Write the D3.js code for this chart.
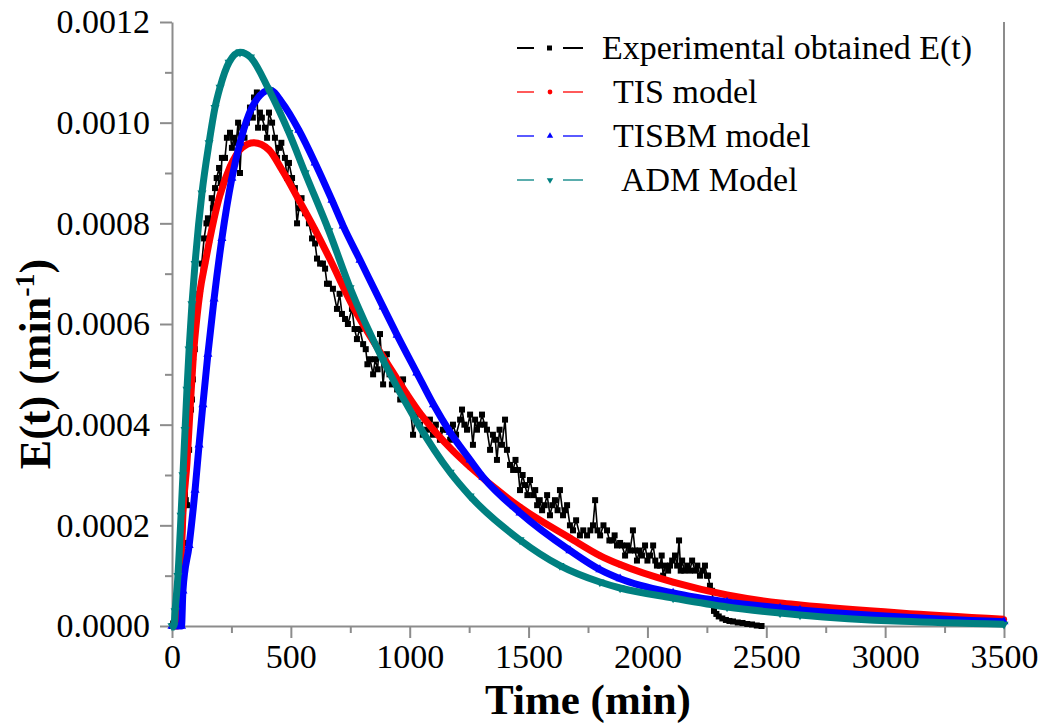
<!DOCTYPE html>
<html>
<head>
<meta charset="utf-8">
<script src="https://cdn.jsdelivr.net/npm/d3@7"></script>
<style>
  body { margin: 0; background: #fff; }
  text { font-family: "Liberation Serif", "DejaVu Serif", serif; }
</style>
</head>
<body>
<div id="chart"></div>
<script>
// experimental E(t)
const expTime = [0, 5, 20, 34, 50, 58, 63, 67, 72, 80, 84, 88, 96, 101, 105, 115, 125, 135, 145, 151, 160, 167, 172, 181, 188, 198, 205, 210, 223, 231, 244, 252, 260, 270, 278, 286, 295, 305, 315, 328, 340, 345, 357, 362, 370, 378, 391, 400, 408, 421, 433, 442, 450, 460, 475, 484, 492, 505, 517, 526, 534, 545, 560, 576, 589, 602, 610, 623, 635, 644, 652, 660, 677, 694, 705, 715, 728, 740, 757, 768, 778, 790, 804, 815, 822, 833, 846, 855, 865, 875, 888, 896, 904, 915, 925, 935, 947, 960, 972, 985, 1001, 1014, 1025, 1043, 1055, 1073, 1085, 1098, 1110, 1127, 1140, 1157, 1170, 1182, 1195, 1212, 1220, 1230, 1241, 1254, 1266, 1275, 1283, 1295, 1304, 1315, 1325, 1338, 1350, 1360, 1367, 1378, 1388, 1401, 1409, 1422, 1435, 1445, 1456, 1464, 1475, 1485, 1495, 1506, 1519, 1528, 1536, 1547, 1557, 1568, 1578, 1590, 1600, 1611, 1622, 1632, 1645, 1655, 1662, 1674, 1687, 1700, 1716, 1730, 1746, 1760, 1771, 1780, 1790, 1801, 1815, 1830, 1840, 1851, 1862, 1872, 1885, 1893, 1906, 1915, 1927, 1939, 1948, 1956, 1967, 1977, 1990, 2000, 2011, 2024, 2033, 2040, 2053, 2060, 2066, 2075, 2087, 2095, 2104, 2116, 2125, 2133, 2140, 2146, 2155, 2167, 2178, 2188, 2200, 2210, 2221, 2232, 2242, 2250, 2255, 2263, 2272, 2280, 2290, 2300, 2315, 2330, 2345, 2360, 2380, 2400, 2420, 2440, 2460, 2480];
const expE = [0, 0.000005, 0.00006, 0.00013, 0.000165, 0.00025, 0.00024, 0.00036, 0.00035, 0.00043, 0.00045, 0.00049, 0.00055, 0.00059, 0.00063, 0.00066, 0.00072, 0.00077, 0.0008, 0.00081, 0.0008, 0.00085, 0.00083, 0.00087, 0.00089, 0.00091, 0.00088, 0.00093, 0.00093, 0.00097, 0.00098, 0.00095, 0.00097, 0.00096, 0.001, 0.0009, 0.00099, 0.00097, 0.001, 0.00103, 0.00101, 0.00105, 0.00106, 0.00099, 0.00102, 0.00101, 0.00099, 0.00097, 0.00102, 0.001, 0.00097, 0.00093, 0.00095, 0.00096, 0.00093, 0.00089, 0.00092, 0.00089, 0.00087, 0.0008, 0.00083, 0.00085, 0.00082, 0.0008, 0.00077, 0.00076, 0.00073, 0.00072, 0.00072, 0.00071, 0.00068, 0.00068, 0.00067, 0.00063, 0.00066, 0.00062, 0.00061, 0.0006, 0.00063, 0.00059, 0.00057, 0.00059, 0.00056, 0.00055, 0.00052, 0.00053, 0.0005, 0.00053, 0.00051, 0.00058, 0.00048, 0.00052, 0.00054, 0.0005, 0.00048, 0.00049, 0.00047, 0.00045, 0.00049, 0.00046, 0.00044, 0.00038, 0.00042, 0.0004, 0.00038, 0.00039, 0.00041, 0.00038, 0.0004, 0.00037, 0.00039, 0.00039, 0.00037, 0.0004, 0.00038, 0.00041, 0.00043, 0.0004, 0.00039, 0.00042, 0.00036, 0.00041, 0.00039, 0.0004, 0.00042, 0.0004, 0.00039, 0.00035, 0.00038, 0.00037, 0.00033, 0.00039, 0.00036, 0.00041, 0.00035, 0.00032, 0.00031, 0.00033, 0.00031, 0.00027, 0.0003, 0.00028, 0.00026, 0.00029, 0.00026, 0.00027, 0.00024, 0.00025, 0.00023, 0.00024, 0.00026, 0.00022, 0.00024, 0.00025, 0.00023, 0.00027, 0.00022, 0.00023, 0.00024, 0.0002, 0.00019, 0.00021, 0.00018, 0.00019, 0.00018, 0.00019, 0.0002, 0.00025, 0.00019, 0.00018, 0.0002, 0.00019, 0.00017, 0.00017, 0.00018, 0.00016, 0.000165, 0.00016, 0.00014, 0.00016, 0.00015, 0.00019, 0.00015, 0.00013, 0.00015, 0.00014, 0.00016, 0.00013, 0.00014, 0.00016, 0.00013, 0.00012, 0.00012, 0.00014, 0.0001, 0.00012, 0.00011, 0.00012, 0.00013, 0.00014, 0.00012, 0.00017, 0.00011, 0.00013, 0.00011, 0.00012, 0.00011, 0.00013, 0.00011, 0.00012, 0.0001, 0.00011, 0.00012, 0.0001, 0.0001, 0.00008, 0.00007, 0.00003, 0.000024, 0.000019, 0.000015, 0.000012, 0.00001, 0.000009, 0.000007, 0.000006, 0.000004, 0.000003, 0.000001, 0];

// TIS model
const tisTime = [0, 25, 34, 46, 63, 76, 89, 105, 118, 139, 156, 198, 244, 294, 345, 408, 463, 534, 602, 660, 762, 904, 1043, 1182, 1254, 1464, 1674, 1800, 1885, 2108, 2335, 2558, 2642, 3063, 3500];
const tisE = [0, 0, 0.000077, 0.000224, 0.000324, 0.00043, 0.00053, 0.000614, 0.000665, 0.00072, 0.000762, 0.00085, 0.000912, 0.00095, 0.00096, 0.000946, 0.000906, 0.000846, 0.000787, 0.000733, 0.000634, 0.000523, 0.000423, 0.000348, 0.000316, 0.000236, 0.000175, 0.00014, 0.000122, 0.000087, 0.0000616, 0.0000457, 0.0000417, 0.0000258, 0.0000133];

// TISBM model
const tisbmTime = [0, 40, 46, 72, 97, 114, 130, 151, 177, 210, 252, 286, 336, 412, 463, 534, 602, 673, 720, 791, 888, 947, 1030, 1100, 1170, 1254, 1308, 1464, 1674, 1800, 1885, 2108, 2335, 2558, 2642, 3500];
const tisbmE = [0, 0, 0.00007, 0.00016, 0.00027, 0.00036, 0.00044, 0.00054, 0.00065, 0.00077, 0.00089, 0.00096, 0.00103, 0.001065, 0.00104, 0.000985, 0.00092, 0.000846, 0.000795, 0.000727, 0.000634, 0.000578, 0.000503, 0.00044, 0.000385, 0.00033, 0.000296, 0.000225, 0.00015, 0.000112, 0.000094, 0.0000656, 0.0000477, 0.0000358, 0.000032, 0.0000085];

// ADM model
const admTime = [0, 8, 13, 25, 38, 46, 55, 63, 72, 84, 97, 126, 156, 181, 202, 240, 286, 330, 408, 492, 560, 660, 749, 888, 1030, 1170, 1254, 1464, 1632, 1800, 1885, 2108, 2335, 2558, 2642, 3500];
const admE = [0, 0, 0.00003, 0.0001, 0.00022, 0.0003, 0.00039, 0.00047, 0.00055, 0.00064, 0.00072, 0.00086, 0.00096, 0.00103, 0.00107, 0.00112, 0.00114, 0.00113, 0.001065, 0.00098, 0.0009, 0.000785, 0.000672, 0.000528, 0.000405, 0.000305, 0.000258, 0.000171, 0.00012, 0.0000874, 0.0000755, 0.0000556, 0.0000377, 0.0000258, 0.000022, 0.0000034];

const legendLabels = ["Experimental obtained E(t)", "TIS model", "TISBM model", "ADM Model"];
const xTicks = [0, 500, 1000, 1500, 2000, 2500, 3000, 3500];
const yTicks = [0, 0.0002, 0.0004, 0.0006, 0.0008, 0.0010, 0.0012];

// set the dimensions and margins of the graph
const margin = {top: 22, right: 40, bottom: 98, left: 172},
    width = 1044 - margin.left - margin.right,
    height = 724 - margin.top - margin.bottom;

const svg = d3.select("#chart")
    .append("svg")
    .attr("width", 1044)
    .attr("height", 724)
    .append("g")
    .attr("transform", `translate(${margin.left},${margin.top})`);

const x = d3.scaleLinear().domain([0, 3500]).range([0, width]);
const y = d3.scaleLinear().domain([0, 0.0012]).range([height, 0]);

const axisColor = "#8c8c8c";

// minor ticks
svg.append("g")
    .attr("transform", `translate(0, ${height})`)
    .call(d3.axisBottom(x).tickValues(d3.range(250, 3500, 500)).tickSize(7).tickFormat(""))
    .call(g => g.select(".domain").remove())
    .selectAll("line").attr("stroke", axisColor).attr("stroke-width", 2);
svg.append("g")
    .call(d3.axisLeft(y).tickValues(d3.range(0.0001, 0.0012, 0.0002)).tickSize(7).tickFormat(""))
    .call(g => g.select(".domain").remove())
    .selectAll("line").attr("stroke", axisColor).attr("stroke-width", 2);

// X axis
const xAxis = svg.append("g")
    .attr("transform", `translate(0, ${height})`)
    .call(d3.axisBottom(x).tickValues(xTicks).tickSize(12).tickSizeOuter(0).tickPadding(6).tickFormat(d3.format("d")));
xAxis.selectAll("text").attr("font-size", "34px").attr("fill", "#000")
    .attr("font-family", "Liberation Serif");

// Y axis
const yAxis = svg.append("g")
    .call(d3.axisLeft(y).tickValues(yTicks).tickSize(12).tickSizeOuter(0).tickPadding(10).tickFormat(d3.format(".4f")));
yAxis.selectAll("text").attr("font-size", "34px").attr("fill", "#000")
    .attr("font-family", "Liberation Serif");

[xAxis, yAxis].forEach(g => {
    g.select(".domain").attr("stroke", axisColor).attr("stroke-width", 2);
    g.selectAll(".tick line").attr("stroke", axisColor).attr("stroke-width", 2);
});

// right border
svg.append("line")
    .attr("x1", width).attr("x2", width)
    .attr("y1", 0).attr("y2", height)
    .attr("stroke", axisColor).attr("stroke-width", 2);

// axis titles
svg.append("text")
    .attr("x", width / 2)
    .attr("y", height + 88)
    .attr("text-anchor", "middle")
    .attr("font-size", "43px")
    .attr("font-weight", "bold")
    .text("Time (min)");

const yTitle = svg.append("text")
    .attr("transform", `translate(-122, ${height / 2 + 40}) rotate(-90)`)
    .attr("text-anchor", "middle")
    .attr("font-size", "44px")
    .attr("font-weight", "bold");
yTitle.append("tspan").text("E(t) (min");
yTitle.append("tspan").attr("font-size", "28px").attr("dy", "-16").text("-1");
yTitle.append("tspan").attr("dy", "16").text(")");

const line = d3.line()
    .x(d => x(d[0]))
    .y(d => y(d[1]));

// experimental data
const expData = expTime.map((t, i) => [t, expE[i]]);
svg.append("path")
    .datum(expData)
    .attr("fill", "none")
    .attr("stroke", "#000")
    .attr("stroke-width", 1.6)
    .attr("d", line);
svg.append("g")
    .selectAll("rect")
    .data(expData)
    .join("rect")
    .attr("x", d => x(d[0]) - 3)
    .attr("y", d => y(d[1]) - 3)
    .attr("width", 6)
    .attr("height", 6)
    .attr("fill", "#000");

// model curves
const models = [
    {time: tisTime, vals: tisE, color: "#ff0000", symbol: d3.symbolCircle, size: 30},
    {time: tisbmTime, vals: tisbmE, color: "#0000ff", symbol: d3.symbolTriangle, size: 36},
    {time: admTime, vals: admE, color: "#008080", symbol: d3.symbolTriangle, size: 36, flip: true}
];

const smooth = d3.line()
    .x(d => x(d[0]))
    .y(d => y(d[1]))
    .curve(d3.curveMonotoneX);

models.forEach(m => {
    const data = m.time.map((t, i) => [t, m.vals[i]]);
    svg.append("path")
        .datum(data)
        .attr("fill", "none")
        .attr("stroke", m.color)
        .attr("stroke-width", 7)
        .attr("stroke-linejoin", "round")
        .attr("d", smooth);
    svg.append("g")
        .selectAll("path")
        .data(data)
        .join("path")
        .attr("transform", d => `translate(${x(d[0])},${y(d[1])})` + (m.flip ? " rotate(180)" : ""))
        .attr("d", d3.symbol().type(m.symbol).size(m.size))
        .attr("fill", m.color);
});

// legend
const legendColors = ["#000", "#ff0000", "#0000ff", "#008080"];
const legendTextX = [430, 441, 441, 449];
const legend = svg.append("g");
legendLabels.forEach((label, i) => {
    const ly = 26 + i * 44;
    const g = legend.append("g").attr("transform", `translate(0, ${ly})`);
    g.append("line").attr("x1", 345).attr("x2", 362).attr("y1", 0).attr("y2", 0)
        .attr("stroke", legendColors[i]).attr("stroke-width", i === 0 ? 2 : 1.3);
    g.append("line").attr("x1", 391).attr("x2", 411).attr("y1", 0).attr("y2", 0)
        .attr("stroke", legendColors[i]).attr("stroke-width", i === 0 ? 2 : 1.3);
    if (i === 0) {
        g.append("rect").attr("x", 375).attr("y", -2.5).attr("width", 5).attr("height", 5).attr("fill", "#000");
    } else {
        const type = i === 1 ? d3.symbolCircle : d3.symbolTriangle;
        g.append("path")
            .attr("transform", `translate(378,0)` + (i === 3 ? " rotate(180)" : ""))
            .attr("d", d3.symbol().type(type).size(18))
            .attr("fill", legendColors[i]);
    }
    g.append("text")
        .attr("x", legendTextX[i])
        .attr("y", 11)
        .attr("font-size", "34px")
        .text(label);
});
</script>
</body>
</html>
